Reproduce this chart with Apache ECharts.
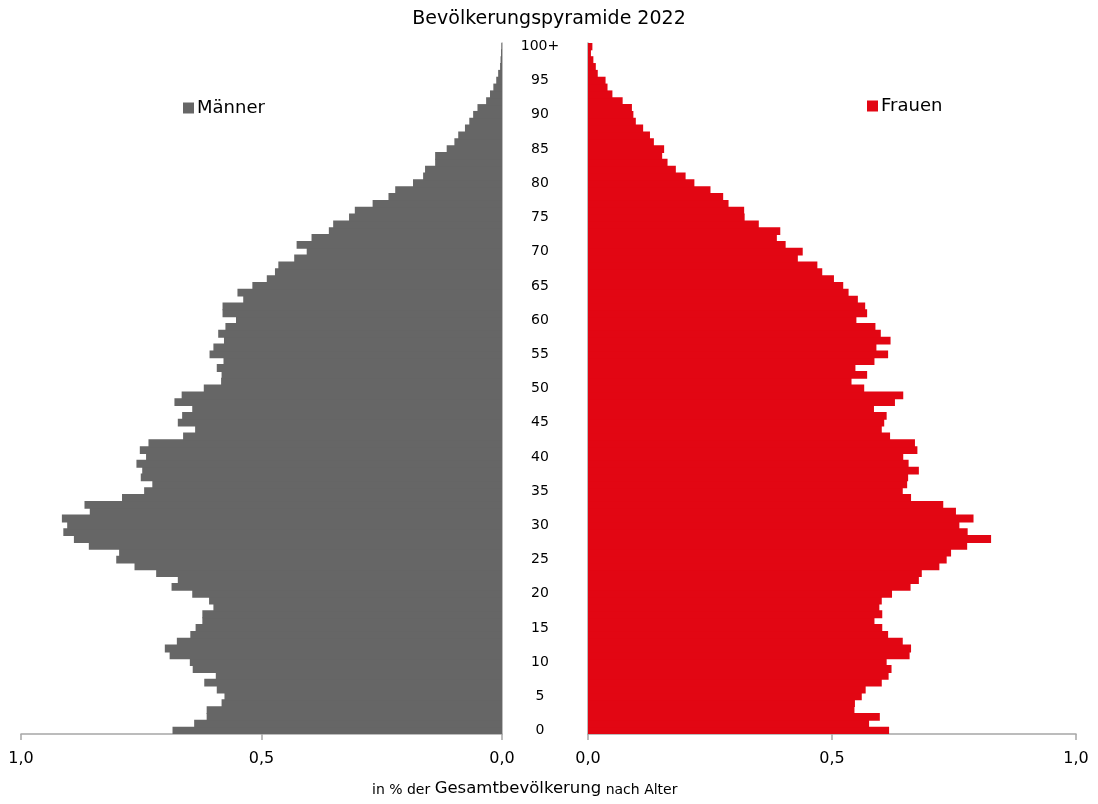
<!DOCTYPE html>
<html>
<head>
<meta charset="utf-8">
<script src="https://cdn.jsdelivr.net/npm/echarts@6/dist/echarts.min.js"></script>
<style>
html,body{margin:0;padding:0;background:#fff;}
#chart{width:1098px;height:804px;}
</style>
</head>
<body>
<div id="chart"></div>
<script>
// Ages 0..100+
const ages = [];
for (let i = 0; i <= 99; i++) ages.push(String(i));
ages.push('100+');

// % der Gesamtbevölkerung, Männer (age 0 .. 100+)
const maenner = [
0.685,0.640,0.614,0.614,0.583,0.577,0.593,0.619,0.595,0.643,
0.649,0.691,0.701,0.676,0.648,0.637,0.623,0.623,0.600,0.609,
0.644,0.687,0.674,0.719,0.764,0.802,0.796,0.859,0.890,0.912,
0.904,0.915,0.857,0.868,0.790,0.744,0.727,0.751,0.748,0.760,
0.740,0.753,0.735,0.663,0.638,0.674,0.665,0.644,0.681,0.666,
0.620,0.584,0.583,0.593,0.579,0.608,0.600,0.578,0.590,0.575,
0.553,0.581,0.581,0.538,0.550,0.519,0.489,0.472,0.465,0.432,
0.406,0.427,0.396,0.360,0.351,0.318,0.306,0.269,0.236,0.222,
0.185,0.164,0.160,0.139,0.139,0.115,0.099,0.091,0.077,0.068,
0.060,0.051,0.033,0.025,0.018,0.012,0.008,0.004,0.003,0.002,
0.001
];

// % der Gesamtbevölkerung, Frauen (age 0 .. 100+)
const frauen = [
0.617,0.576,0.598,0.546,0.547,0.561,0.569,0.602,0.616,0.622,
0.612,0.659,0.662,0.645,0.615,0.603,0.587,0.603,0.597,0.602,
0.623,0.661,0.678,0.684,0.720,0.735,0.744,0.777,0.826,0.778,
0.761,0.790,0.754,0.728,0.662,0.645,0.654,0.656,0.678,0.657,
0.646,0.675,0.670,0.619,0.602,0.607,0.612,0.586,0.629,0.646,
0.566,0.540,0.572,0.548,0.587,0.615,0.591,0.620,0.600,0.589,
0.550,0.572,0.568,0.553,0.534,0.523,0.504,0.480,0.470,0.430,
0.440,0.405,0.387,0.394,0.350,0.321,0.320,0.288,0.277,0.251,
0.218,0.200,0.180,0.163,0.152,0.156,0.135,0.127,0.113,0.098,
0.093,0.090,0.071,0.050,0.040,0.036,0.020,0.016,0.011,0.006,
0.009
];

const xTicks = [0, 0.5, 1.0];

const FONT = "'DejaVu Sans', Verdana, sans-serif";
const GREY = '#666666';
const RED = '#E20613';
const AXIS = '#A6A6A6';

const fmt = v => v.toFixed(1).replace('.', ',');

const chart = echarts.init(document.getElementById('chart'), null, {renderer: 'canvas'});

const xAxisCommon = {
  type: 'value',
  min: xTicks[0],
  max: xTicks[xTicks.length - 1],
  interval: 0.5,
  axisLine: {show: true, lineStyle: {color: AXIS, width: 1.5}},
  axisTick: {show: true, length: 6, lineStyle: {color: AXIS, width: 1.5}},
  splitLine: {show: false},
  axisLabel: {formatter: fmt, color: '#000', fontSize: 16, fontFamily: FONT, margin: 17}
};

chart.setOption({
  animation: false,
  backgroundColor: '#fff',
  title: {
    text: 'Bevölkerungspyramide 2022',
    left: 'center',
    top: 5,
    textStyle: {fontSize: 19, fontWeight: 'normal', color: '#000', fontFamily: FONT}
  },
  legend: [
    {
      data: ['Männer'],
      left: 178, top: 94,
      icon: 'rect', itemWidth: 11, itemHeight: 11, itemGap: 4,
      textStyle: {fontSize: 18, color: '#000', fontFamily: FONT, padding: [0,0,0,-2]}
    },
    {
      data: ['Frauen'],
      left: 862, top: 92,
      icon: 'rect', itemWidth: 11, itemHeight: 11, itemGap: 4,
      textStyle: {fontSize: 18, color: '#000', fontFamily: FONT, padding: [0,0,0,-2]}
    }
  ],
  grid: [
    {left: 21, right: 596, top: 43, bottom: 70, containLabel: false},
    {left: 588, right: 22, top: 43, bottom: 70, containLabel: false}
  ],
  xAxis: [
    Object.assign({}, xAxisCommon, {gridIndex: 0, inverse: true}),
    Object.assign({}, xAxisCommon, {gridIndex: 1})
  ],
  yAxis: [
    {
      type: 'category', gridIndex: 0, data: ages, position: 'right',
      axisLine: {show: true, lineStyle: {color: AXIS, width: 1.5}},
      axisTick: {show: false}, axisLabel: {show: false}, splitLine: {show: false}
    },
    {
      type: 'category', gridIndex: 1, data: ages, position: 'left',
      axisLine: {show: true, lineStyle: {color: AXIS, width: 1.5}},
      axisTick: {show: false}, splitLine: {show: false},
      axisLabel: {
        show: true,
        interval: (idx) => idx % 5 === 0,
        align: 'center',
        margin: 48,
        padding: [5, 0, 0, 0],
        color: '#000', fontSize: 14, fontFamily: FONT
      }
    }
  ],
  graphic: [
    {
      type: 'text',
      left: 372,
      top: 780,
      style: {
        text: '{s|in % der }{b|Gesamtbevölkerung}{s| nach Alter}',
        rich: {
          s: {fontSize: 14, fontFamily: FONT, fill: '#000', verticalAlign: 'bottom'},
          b: {fontSize: 16.5, fontFamily: FONT, fill: '#000', verticalAlign: 'bottom'}
        }
      }
    }
  ],
  series: [
    {
      name: 'Männer', type: 'bar', xAxisIndex: 0, yAxisIndex: 0,
      data: maenner, barWidth: 7.8,
      itemStyle: {color: GREY}
    },
    {
      name: 'Frauen', type: 'bar', xAxisIndex: 1, yAxisIndex: 1,
      data: frauen, barWidth: 7.8,
      itemStyle: {color: RED}
    }
  ]
});
</script>
</body>
</html>
